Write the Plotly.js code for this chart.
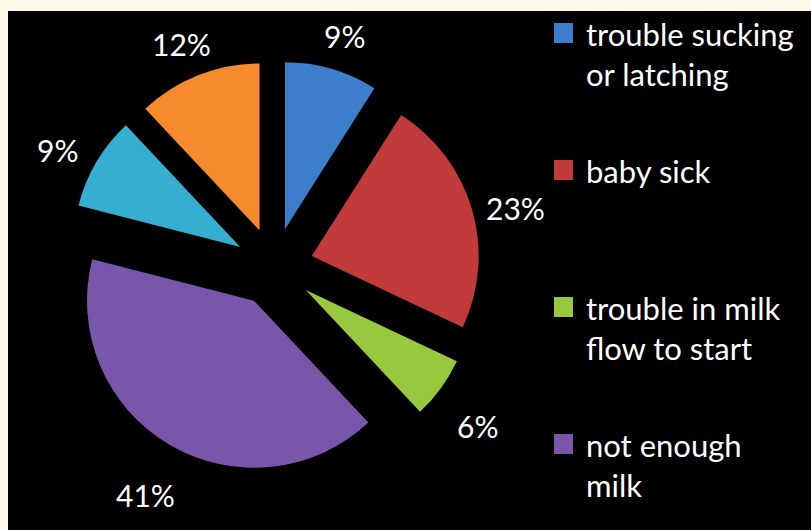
<!DOCTYPE html>
<html>
<head>
<meta charset="utf-8">
<script src="https://cdn.plot.ly/plotly-3.0.1.min.js"></script>
<style>
  html, body { margin: 0; padding: 0; background: #FFFAE8; }
  #chart { width: 811px; height: 530px; }
</style>
</head>
<body>
<div id="chart"></div>
<script>
// Share of each reason (percent), clockwise from 12 o'clock
const values = [9, 23, 6, 41, 9, 12];
const sliceColors = ['#3C7DCC', '#C23B3B', '#98C83E', '#7A56AA', '#35AECF', '#F58B2C'];
// Legend captions (one line per entry in each sub-list)
const legendLines = [
  ['trouble sucking', 'or latching'],
  ['baby sick'],
  ['trouble in milk', 'flow to start'],
  ['not enough', 'milk']
];

const W = 811, H = 530;
const FONT = 'Lato, "Open Sans", sans-serif';
const px2x = x => x / W;
const px2y = y => 1 - y / H;

// Pie geometry in pixels
const cx = 274, cy = 267, radius = 167, pull = 0.235;
const half = radius * (1 + pull);
// label ring is centred slightly below the pie centre
const LABEL_R = 252, LABEL_DY = 11;

const annotations = [];
const shapes = [];

// dark panel behind the chart
shapes.push({
  type: 'rect', layer: 'below', xref: 'paper', yref: 'paper',
  x0: px2x(8), x1: 1, y0: 0, y1: px2y(11),
  fillcolor: '#000000', line: { width: 0 }
});

// percentage labels placed around the slice mid-angles
const total = values.reduce((a, b) => a + b, 0);
let acc = 0;
values.forEach(v => {
  const mid = (acc + v / 2) / total * 2 * Math.PI;
  acc += v;
  annotations.push({
    xref: 'paper', yref: 'paper',
    x: px2x(cx + LABEL_R * Math.sin(mid)),
    y: px2y(cy + LABEL_DY - LABEL_R * Math.cos(mid)),
    text: v + '%', showarrow: false,
    xanchor: 'center', yanchor: 'middle',
    font: { family: FONT, size: 30, color: '#FFFFFF' }
  });
});

// legend: colour square plus caption lines
legendLines.forEach((lines, i) => {
  const base = 45 + i * 137;
  shapes.push({
    type: 'rect', xref: 'paper', yref: 'paper',
    x0: px2x(554), x1: px2x(573), y0: px2y(base - 2), y1: px2y(base - 22),
    fillcolor: sliceColors[i], line: { width: 0 }
  });
  lines.forEach((t, j) => {
    annotations.push({
      xref: 'paper', yref: 'paper',
      x: px2x(584), y: px2y(base + j * 40 - 11),
      text: t, showarrow: false,
      xanchor: 'left', yanchor: 'middle',
      font: { family: FONT, size: 31, color: '#FFFFFF' }
    });
  });
});

const trace = {
  type: 'pie',
  values: values,
  sort: false,
  direction: 'clockwise',
  rotation: 0,
  pull: values.map(() => pull),
  marker: { colors: sliceColors, line: { width: 0 } },
  textinfo: 'none',
  hoverinfo: 'none',
  showlegend: false,
  domain: {
    x: [px2x(cx - half), px2x(cx + half)],
    y: [px2y(cy + half), px2y(cy - half)]
  }
};

const layout = {
  width: W, height: H,
  margin: { l: 0, r: 0, t: 0, b: 0 },
  paper_bgcolor: '#FFFAE8',
  showlegend: false,
  shapes: shapes,
  annotations: annotations
};

Plotly.newPlot('chart', [trace], layout, { displayModeBar: false, staticPlot: true });
</script>
</body>
</html>
